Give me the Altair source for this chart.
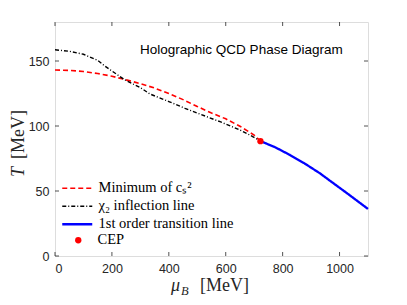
import altair as alt
import pandas as pd

W, H = 313, 234

# ---- data ----
red_mu = [0, 50, 100, 150, 200, 250, 300, 350, 400, 450, 500, 550, 600, 650, 700, 722]
red_T = [143.1, 142.8, 141.9, 140.4, 138.3, 135.5, 132.6, 129.2, 125.0, 120.3, 115.0, 110.0, 105.5, 99.8, 93.0, 88.4]
blk_mu = [0, 50, 100, 150, 176, 200, 246, 300, 334, 400, 457, 509, 580, 650, 685, 722]
blk_T = [158.6, 157.5, 155.2, 150.5, 146.0, 142.3, 135.4, 129.5, 124.6, 118.8, 113.6, 109.2, 103.3, 96.9, 93.0, 88.4]
blue_mu = [722, 775, 825, 875, 931, 975, 1025, 1100]
blue_T = [88.4, 83.5, 77.8, 71.5, 63.6, 56.5, 48.5, 36.2]
cep_mu = [722]
cep_T = [88.3]

names = ["Minimum of c\u209b\u00b2", "\u03c7\u2082 inflection line", "1st order transition line"]
colors = ["#ff0000", "#000000", "#0000ff"]
dashes = [[5, 3], [4, 2, 1, 2], [1, 0]]
widths = [1.6, 1.4, 2.3]

x_ticks = [0, 200, 400, 600, 800, 1000]
y_ticks = [0, 50, 100, 150]

rows = []
for nm, xs_, ys_ in [(names[0], red_mu, red_T), (names[1], blk_mu, blk_T), (names[2], blue_mu, blue_T)]:
    for a, b in zip(xs_, ys_):
        rows.append({"mu": a, "T": b, "series": nm})
df = pd.DataFrame(rows)
cep_df = pd.DataFrame({"mu": cep_mu, "T": cep_T, "lab": ["CEP"]})

xs = alt.Scale(domain=[0, 1100], nice=False, zero=False)
ys = alt.Scale(domain=[0, 180], nice=False, zero=False)

x_axis = alt.Axis(values=x_ticks, format="d", title=None, grid=False, domain=False, ticks=False,
                  labelFont="Liberation Sans", labelFontSize=12.5, labelColor="#262626",
                  labelPadding=6)
y_axis = alt.Axis(values=y_ticks, format="d", title=None, grid=False, domain=False, ticks=False,
                  labelFont="Liberation Sans", labelFontSize=12.5, labelColor="#262626",
                  labelPadding=6)

leg_common = dict(title=None, orient="none", legendX=15, legendY=159,
                  symbolType="M-3,0H3", symbolSize=100,
                  labelFont="Liberation Serif", labelFontSize=14.5, labelColor="#000000",
                  labelOffset=14, rowPadding=3, padding=0, labelLimit=400)

lines = alt.Chart(df).mark_line().encode(
    x=alt.X("mu:Q", scale=xs, axis=x_axis),
    y=alt.Y("T:Q", scale=ys, axis=y_axis),
    color=alt.Color("series:N", scale=alt.Scale(domain=names, range=colors), sort=names,
                    legend=alt.Legend(**leg_common)),
    strokeDash=alt.StrokeDash("series:N", scale=alt.Scale(domain=names, range=dashes), sort=names,
                              legend=alt.Legend(**leg_common)),
    strokeWidth=alt.StrokeWidth("series:O", scale=alt.Scale(type="ordinal", domain=names, range=widths),
                                sort=names, legend=alt.Legend(**leg_common)),
)

cep = alt.Chart(cep_df).mark_point(filled=True, size=40, opacity=1, color="#ff0000").encode(
    x=alt.X("mu:Q", scale=xs),
    y=alt.Y("T:Q", scale=ys),
    shape=alt.Shape("lab:N", scale=alt.Scale(domain=["CEP"], range=["circle"]),
                    legend=alt.Legend(title=None, orient="none", legendX=16, legendY=211,
                                      symbolType="circle", symbolSize=40,
                                      symbolFillColor="#ff0000", symbolStrokeColor="#ff0000",
                                      labelFont="Liberation Serif", labelFontSize=14.5,
                                      labelColor="#000000", labelOffset=12, padding=0)),
)

title_df = pd.DataFrame({"mu": [655], "T": [158.5], "txt": ["Holographic QCD Phase Diagram"]})
title = alt.Chart(title_df).mark_text(font="Liberation Sans", fontSize=13.5, color="#000000",
                                      align="center", baseline="middle").encode(
    x=alt.X("mu:Q", scale=xs), y=alt.Y("T:Q", scale=ys), text="txt:N")

# inward frame ticks
xt = pd.DataFrame({"v": x_ticks})
yt = pd.DataFrame({"v": y_ticks})
tick_col = "#262626"
bt = alt.Chart(xt).mark_rule(color=tick_col, strokeWidth=0.8).encode(
    x=alt.X("v:Q", scale=xs), y=alt.value(H - 4), y2=alt.value(H))
tt = alt.Chart(xt).mark_rule(color=tick_col, strokeWidth=0.8).encode(
    x=alt.X("v:Q", scale=xs), y=alt.value(0), y2=alt.value(4))
lt = alt.Chart(yt).mark_rule(color=tick_col, strokeWidth=0.8).encode(
    y=alt.Y("v:Q", scale=ys), x=alt.value(0), x2=alt.value(4))
rt = alt.Chart(yt).mark_rule(color=tick_col, strokeWidth=0.8).encode(
    y=alt.Y("v:Q", scale=ys), x=alt.value(W - 4), x2=alt.value(W))

# axis titles as text (to allow italic symbols and subscript)
one = alt.Data(values=[{}])
def txt(s, x, y, size, style="normal", angle=0, align="left"):
    return alt.Chart(one).mark_text(text=s, font="Liberation Serif", fontSize=size, fontStyle=style,
                                    color="#262626", align=align, baseline="alphabetic",
                                    angle=angle).encode(x=alt.value(x), y=alt.value(y))

xt1 = txt("\u03bc", 116, 269, 18, "italic")
xt2 = txt("B", 126, 273, 12.5, "italic")
xt3 = txt("[MeV]", 145, 269, 18)
yt1 = txt("T", -31, 155, 18, "italic", angle=270)
yt2 = txt("[MeV]", -31, 137, 18, "normal", angle=270)

chart = alt.layer(bt, tt, lt, rt, lines, cep, title, xt1, xt2, xt3, yt1, yt2).properties(
    width=W, height=H,
    padding={"left": 47, "top": 14, "right": 31, "bottom": 41},
    autosize=alt.AutoSizeParams(type="none"),
).configure_view(stroke="#808080", strokeWidth=1).configure(background="white")

chart.save("out.html", embed_options={"renderer": "svg", "actions": False})
